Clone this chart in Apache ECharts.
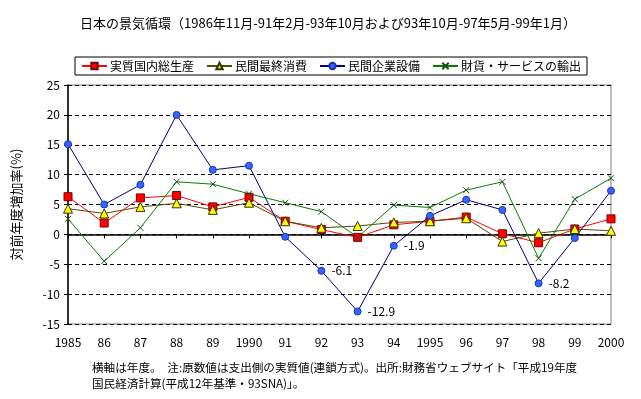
<!DOCTYPE html>
<html>
<head>
<meta charset="utf-8">
<script src="https://cdn.jsdelivr.net/npm/echarts@6/dist/echarts.min.js"></script>
<style>
  html, body { margin: 0; padding: 0; background: #fff; }
  #chart { width: 641px; height: 399px; }
</style>
</head>
<body>
<div id="chart"></div>
<script>
var years = ['1985', '86', '87', '88', '89', '1990', '91', '92', '93', '94', '1995', '96', '97', '98', '99', '2000'];
var gdp = [6.3, 1.9, 6.1, 6.5, 4.6, 6.2, 2.2, 0.8, -0.5, 1.6, 2.2, 2.9, 0.1, -1.4, 0.9, 2.6];
var consumption = [4.3, 3.5, 4.6, 5.2, 4.1, 5.3, 2.2, 1.1, 1.4, 2.0, 2.2, 2.7, -1.2, 0.2, 0.9, 0.6];
var investment = [15.1, 5.0, 8.3, 20.0, 10.8, 11.5, -0.4, -6.1, -12.9, -1.9, 3.1, 5.8, 4.1, -8.2, -0.6, 7.3];
var exportsData = [2.6, -4.5, 1.1, 8.8, 8.4, 6.8, 5.3, 3.8, -0.5, 4.9, 4.5, 7.4, 8.8, -4.0, 5.9, 9.4];
var labeledYears = ['92', '93', '94', '98'];
var seriesNames = ['実質国内総生産', '民間最終消費', '民間企業設備', '財貨・サービスの輸出'];

var font = '"Noto Sans CJK JP", "Noto Sans", sans-serif';
var chart = echarts.init(document.getElementById('chart'), null, { renderer: 'canvas' });

// data labels only on the troughs of 民間企業設備
var investData = investment.map(function (v, i) {
  if (labeledYears.indexOf(years[i]) >= 0) {
    return { value: v, label: { show: true, position: 'right', distance: 6, color: '#000', fontSize: 12, fontFamily: font } };
  }
  return v;
});

chart.setOption({
  animation: false,
  backgroundColor: '#fff',
  title: {
    text: '日本の景気循環（1986年11月-91年2月-93年10月および93年10月-97年5月-99年1月）',
    left: 75, top: 12,
    textStyle: { fontSize: 13, fontWeight: 'normal', color: '#000', fontFamily: font }
  },
  legend: {
    data: seriesNames,
    left: 75, top: 57,
    width: 530,
    borderColor: '#000', borderWidth: 1,
    padding: [3, 6, 3, 6],
    itemGap: 12, itemWidth: 25, itemHeight: 8,
    textStyle: { fontSize: 12, color: '#000', fontFamily: font, padding: [0, 0, 0, -2] }
  },
  grid: {
    left: 68, right: 30, top: 85, bottom: 75,
    show: true, borderColor: '#808080', borderWidth: 1
  },
  xAxis: [{
    type: 'category', data: years, boundaryGap: false,
    axisLine: { onZero: true, lineStyle: { color: '#000', width: 1.5 } },
    axisTick: { show: true, inside: false, length: 4, lineStyle: { color: '#000' } },
    axisLabel: { show: false },
    splitLine: { show: false }
  }, {
    type: 'category', data: years, boundaryGap: false, position: 'bottom',
    axisLine: { show: false, onZero: false },
    axisTick: { show: false },
    axisLabel: { color: '#000', fontSize: 12, margin: 12, fontFamily: font, interval: 0 }
  }],
  yAxis: {
    type: 'value', min: -15, max: 25, interval: 5,
    name: '対前年度増加率(%)', nameLocation: 'middle', nameGap: 45,
    nameTextStyle: { fontSize: 13, color: '#000', fontFamily: font },
    axisLine: { show: true, lineStyle: { color: '#000', width: 1.5 } },
    axisTick: { show: true, length: 4, lineStyle: { color: '#000' } },
    axisLabel: { color: '#000', fontSize: 12, margin: 8, fontFamily: font },
    splitLine: { lineStyle: { color: '#000', type: [4, 3], width: 1 } }
  },
  series: [{
    name: seriesNames[0], type: 'line', data: gdp,
    symbol: 'rect', symbolSize: 8,
    lineStyle: { color: '#ff0000', width: 1 },
    itemStyle: { color: '#ff0000', borderColor: '#800000', borderWidth: 1 }
  }, {
    name: seriesNames[1], type: 'line', data: consumption,
    symbol: 'triangle', symbolSize: 9,
    lineStyle: { color: '#4d4d00', width: 1 },
    itemStyle: { color: '#ffff00', borderColor: '#333300', borderWidth: 1 }
  }, {
    name: seriesNames[2], type: 'line', data: investData,
    symbol: 'circle', symbolSize: 7,
    lineStyle: { color: '#000080', width: 1 },
    itemStyle: { color: '#3366ff', borderColor: '#1a33b3', borderWidth: 1 }
  }, {
    name: seriesNames[3], type: 'line', data: exportsData,
    symbol: 'path://M0,0L10,10M0,10L10,0', symbolSize: 6,
    lineStyle: { color: '#008000', width: 1 },
    itemStyle: { color: 'rgba(0,0,0,0)', borderColor: '#1a4d1a', borderWidth: 1 }
  }],
  graphic: [{
    type: 'text', left: 92, top: 362,
    style: { text: '横軸は年度。　注:原数値は支出側の実質値(連鎖方式)。出所:財務省ウェブサイト「平成19年度', fill: '#000', font: '11.6px ' + font }
  }, {
    type: 'text', left: 92, top: 378,
    style: { text: '国民経済計算(平成12年基準・93SNA)」。', fill: '#000', font: '11.6px ' + font }
  }]
});
</script>
</body>
</html>
